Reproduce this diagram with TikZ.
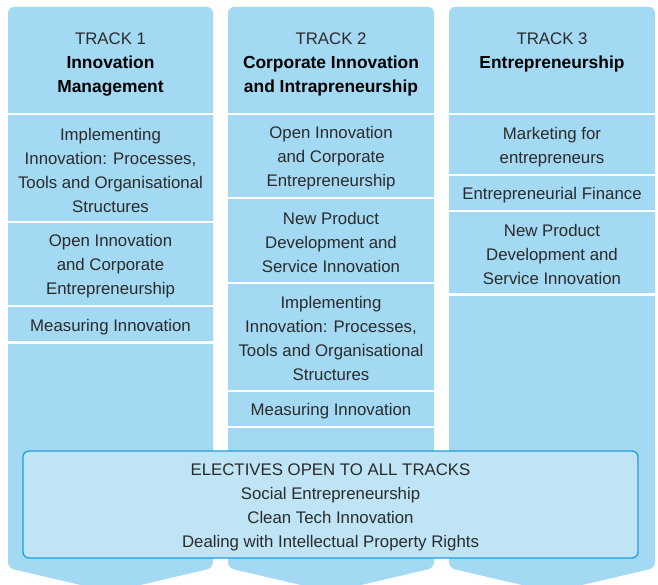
\documentclass[tikz,border=0pt]{standalone}
\usepackage{fontspec}
\setmainfont{Liberation Sans}
\definecolor{colfill}{HTML}{A3D9F2}
\definecolor{elecfill}{HTML}{BEE4F6}
\definecolor{elecline}{HTML}{1CA0DD}
\definecolor{txt}{HTML}{2B2B2B}
\newcommand{\hb}[1]{{\fontsize{17.4}{24}\selectfont\bfseries\color{black}#1}}
\begin{document}
\begin{tikzpicture}[x=1pt,y=-1pt,
  column/.style={fill=colfill, rounded corners=6pt},
  divider/.style={draw=white, line width=2.5pt},
  celltext/.style={align=center, text=txt, inner sep=0pt, font=\fontsize{16.8}{24}\selectfont},
  headtext/.style={align=center, text=txt, inner sep=0pt, font=\fontsize{16.8}{24}\selectfont},
  elecbox/.style={draw=elecline, line width=1.3pt, fill=elecfill, rounded corners=6pt,
    minimum width=615pt, minimum height=107pt, inner sep=0pt, align=center, text=txt,
    font=\fontsize{16.8}{24}\selectfont}
]
\useasboundingbox (0,0) rectangle (658,585);
\clip (0,0) rectangle (658,585);
% columns
\fill[column] (8,568) -- (8,7) -- (213,7) -- (213,568) -- (110.5,592) -- cycle;
\fill[column] (228,568) -- (228,7) -- (434,7) -- (434,568) -- (331,592) -- cycle;
\fill[column] (449,568) -- (449,7) -- (655,7) -- (655,568) -- (552,592) -- cycle;
% dividers
\foreach \y in {114,222,306,342.5} \draw[divider] (8,\y) -- (213,\y);
\foreach \y in {114,198,283,391,427} \draw[divider] (228,\y) -- (434,\y);
\foreach \y in {114,175,211,294.5} \draw[divider] (449,\y) -- (655,\y);
% headers
\node[headtext] (h1) at (110.5,64) {TRACK 1\\\hb{Innovation}\\\hb{Management}};
\node[headtext] (h2) at (331,64) {TRACK 2\\\hb{Corporate Innovation}\\\hb{and Intrapreneurship}};
\node[headtext] (h3) at (552,52) {TRACK 3\\\hb{Entrepreneurship}};
% column 1
\node[celltext] (a1) at (110.5,170) {Implementing\\Innovation: Processes,\\Tools and Organisational\\Structures};
\node[celltext] (a2) at (110.5,266) {Open Innovation\\and Corporate\\Entrepreneurship};
\node[celltext] (a3) at (110.5,327) {Measuring Innovation};
% column 2
\node[celltext] (b1) at (331,158) {Open Innovation\\and Corporate\\Entrepreneurship};
\node[celltext] (b2) at (331,242) {New Product\\Development and\\Service Innovation};
\node[celltext] (b3) at (331,338) {Implementing\\Innovation: Processes,\\Tools and Organisational\\Structures};
\node[celltext] (b4) at (331,411) {Measuring Innovation};
% column 3
\node[celltext] (c1) at (552,147) {Marketing for\\entrepreneurs};
\node[celltext] (c2) at (552,195) {Entrepreneurial Finance};
\node[celltext] (c3) at (552,254) {New Product\\Development and\\Service Innovation};
% electives
\node[elecbox] (el) at (330.5,504.5) {\rule{0pt}{18pt}ELECTIVES OPEN TO ALL TRACKS\\Social Entrepreneurship\\Clean Tech Innovation\\Dealing with Intellectual Property Rights};
\end{tikzpicture}
\end{document}
